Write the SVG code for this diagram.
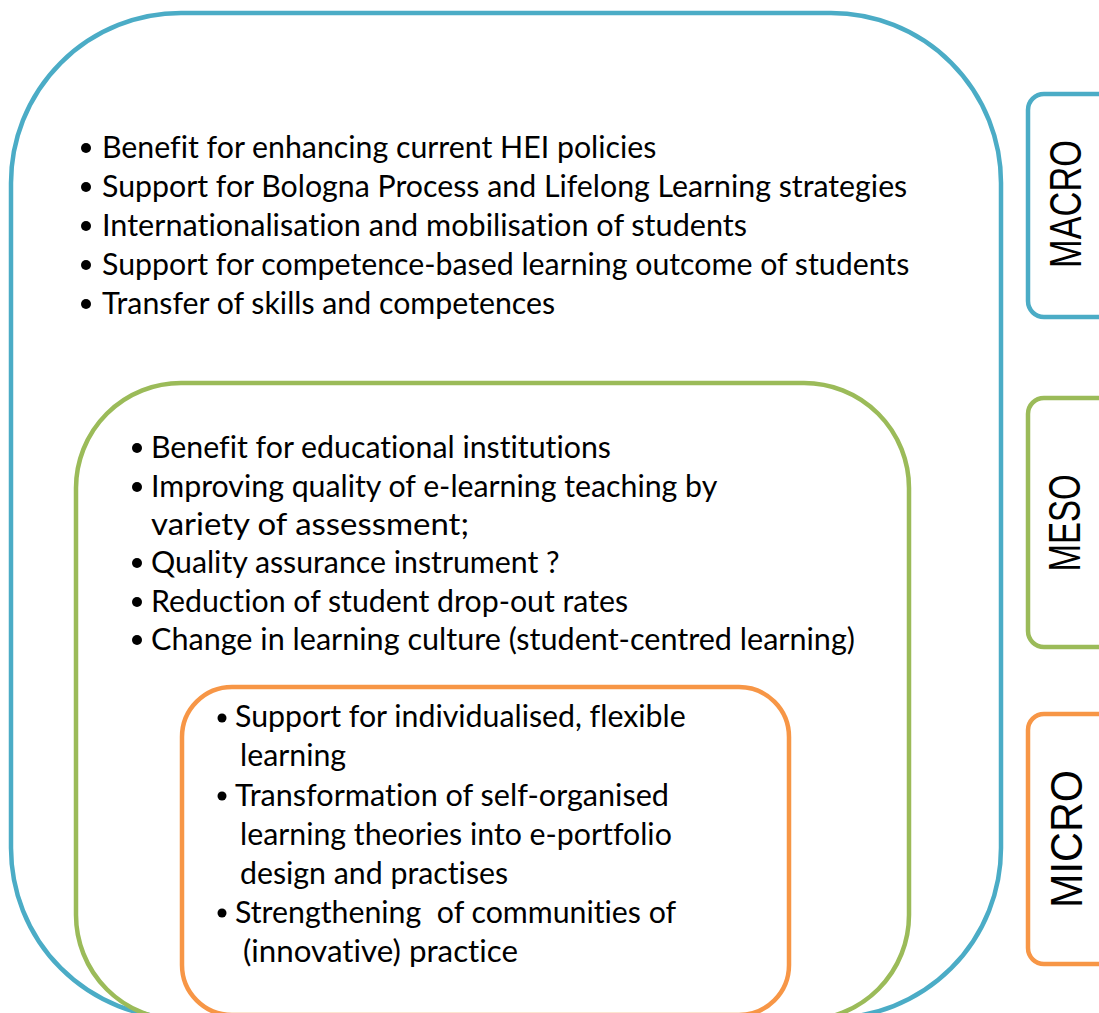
<svg xmlns="http://www.w3.org/2000/svg" width="1099" height="1013" viewBox="0 0 1099 1013">
<style>
.box{fill:none;stroke-width:4.5}
.blue{stroke:#4BACC6}
.green{stroke:#9BBB59}
.orange{stroke:#F79646}
.t{font-family:Lato,"Open Sans","Liberation Sans",sans-serif;font-size:30.3px;fill:#000;font-variant-ligatures:none;font-feature-settings:"liga" 0,"dlig" 0}
.lbl{font-family:"Liberation Sans",Arial,sans-serif;font-size:44px;fill:#000;text-anchor:middle}
.dot{fill:#000}
</style>
<rect width="1099" height="1013" fill="#fff"/>
<g id="macro">
<rect class="box blue" x="11" y="13" width="990" height="1005" rx="170" ry="170"/>
<circle class="dot" cx="86" cy="148" r="5"/>
<circle class="dot" cx="86" cy="187" r="5"/>
<circle class="dot" cx="86" cy="226" r="5"/>
<circle class="dot" cx="86" cy="265" r="5"/>
<circle class="dot" cx="86" cy="304" r="5"/>
<text class="t" x="102" y="158">Benefit for enhancing current HEI policies</text>
<text class="t" x="102" y="197">Support for Bologna Process and Lifelong Learning strategies</text>
<text class="t" x="102" y="236" textLength="645" lengthAdjust="spacingAndGlyphs">Internationalisation and mobilisation of students</text>
<text class="t" x="102" y="275">Support for competence-based learning outcome of students</text>
<text class="t" x="102" y="314">Transfer of skills and competences</text>
</g>
<g id="meso">
<rect class="box green" x="76" y="383" width="833" height="637" rx="105" ry="105"/>
<circle class="dot" cx="137" cy="448" r="5"/>
<circle class="dot" cx="137" cy="487" r="5"/>
<circle class="dot" cx="137" cy="563" r="5"/>
<circle class="dot" cx="137" cy="602" r="5"/>
<circle class="dot" cx="137" cy="640" r="5"/>
<text class="t" x="151" y="458">Benefit for educational institutions</text>
<text class="t" x="151" y="497">Improving quality of e-learning teaching by</text>
<text class="t" x="151" y="535" textLength="318" lengthAdjust="spacingAndGlyphs">variety of assessment;</text>
<text class="t" x="151" y="573">Quality assurance instrument ?</text>
<text class="t" x="151" y="612">Reduction of student drop-out rates</text>
<text class="t" x="151" y="650" textLength="704" lengthAdjust="spacingAndGlyphs">Change in learning culture (student-centred learning)</text>
</g>
<g id="micro">
<rect class="box orange" x="182" y="687" width="607" height="328" rx="50" ry="50"/>
<circle class="dot" cx="222" cy="718" r="4.5"/>
<circle class="dot" cx="222" cy="796" r="4.5"/>
<circle class="dot" cx="222" cy="913" r="4.5"/>
<text class="t" x="235" y="727">Support for individualised, flexible</text>
<text class="t" x="240" y="766">learning</text>
<text class="t" x="235" y="806" textLength="434" lengthAdjust="spacingAndGlyphs">Transformation of self-organised</text>
<text class="t" x="240" y="845">learning theories into e-portfolio</text>
<text class="t" x="240" y="884">design and practises</text>
<text class="t" x="235" y="923" xml:space="preserve">Strengthening  of communities of</text>
<text class="t" x="243" y="962" textLength="275" lengthAdjust="spacingAndGlyphs">(innovative) practice</text>
</g>
<g id="label-macro">
<rect class="box blue" x="1028" y="94" width="90" height="223" rx="16" ry="16"/>
<text class="lbl" transform="translate(1081,204) rotate(-90)" textLength="128" lengthAdjust="spacingAndGlyphs">MACRO</text>
</g>
<g id="label-meso">
<rect class="box green" x="1028" y="398" width="90" height="249" rx="16" ry="16"/>
<text class="lbl" transform="translate(1080,523) rotate(-90)" textLength="97" lengthAdjust="spacingAndGlyphs">MESO</text>
</g>
<g id="label-micro">
<rect class="box orange" x="1028" y="714" width="90" height="250" rx="16" ry="16"/>
<text class="lbl" transform="translate(1082,839) rotate(-90)" textLength="138" lengthAdjust="spacingAndGlyphs">MICRO</text>
</g>
<g id="connectors"/>
</svg>
